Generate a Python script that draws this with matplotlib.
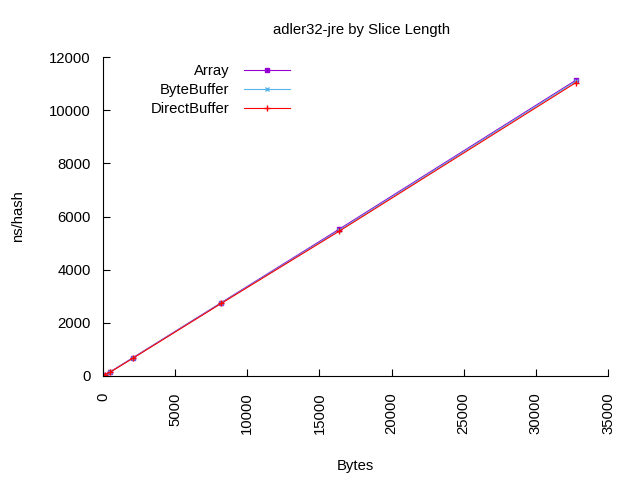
import matplotlib
matplotlib.use("Agg")
import matplotlib.pyplot as plt

# slice lengths (bytes) and timings (ns/hash)
SLICE_LENGTHS = [16, 128, 512, 2048, 8192, 16384, 32768]
ARRAY = [15, 50, 160, 680, 2760, 5530, 11130]
BYTE_BUFFER = [14, 48, 155, 670, 2745, 5490, 11090]
DIRECT_BUFFER = [14, 47, 150, 660, 2730, 5455, 11040]

SERIES = [
    ("Array", ARRAY, "#9400d3", "s", 3.5),
    ("ByteBuffer", BYTE_BUFFER, "#56b4e9", "x", 3.5),
    ("DirectBuffer", DIRECT_BUFFER, "#ff0000", "+", 5),
]

plt.rcParams["font.family"] = ["Liberation Sans", "DejaVu Sans"]
plt.rcParams["font.size"] = 10.7

fig = plt.figure(figsize=(6.4, 4.8), dpi=100)
ax = fig.add_axes([0.161, 0.2167, 0.789, 0.6643])

for name, values, color, marker, size in SERIES:
    ax.plot(SLICE_LENGTHS, values, color=color, marker=marker, markersize=size,
            linewidth=0.8, label=name, markeredgewidth=1)

ax.set_xlim(0, 35000)
ax.set_ylim(0, 12000)
ax.set_xticks(range(0, 35001, 5000))
ax.set_yticks(range(0, 12001, 2000))
ax.tick_params(direction="in", length=5, labelsize=10.7, colors="black")
ax.tick_params(axis="x", labelrotation=90, pad=12)
ax.tick_params(axis="y", pad=9)

ax.spines["top"].set_visible(False)
ax.spines["right"].set_visible(False)

ax.set_title("adler32-jre by Slice Length", fontsize=10.7, pad=17, x=0.511)
ax.set_xlabel("Bytes", labelpad=18)
ax.set_ylabel("ns/hash", labelpad=17)

ax.legend(loc="upper left", bbox_to_anchor=(0.082, 0.998), frameon=False,
          markerfirst=False, handlelength=3.1, handletextpad=1.0,
          labelspacing=0.36, borderaxespad=0.0, fontsize=10.7)
for text in ax.get_legend().get_texts():
    text.set_horizontalalignment("right")

fig.savefig("out.png", dpi=100)
